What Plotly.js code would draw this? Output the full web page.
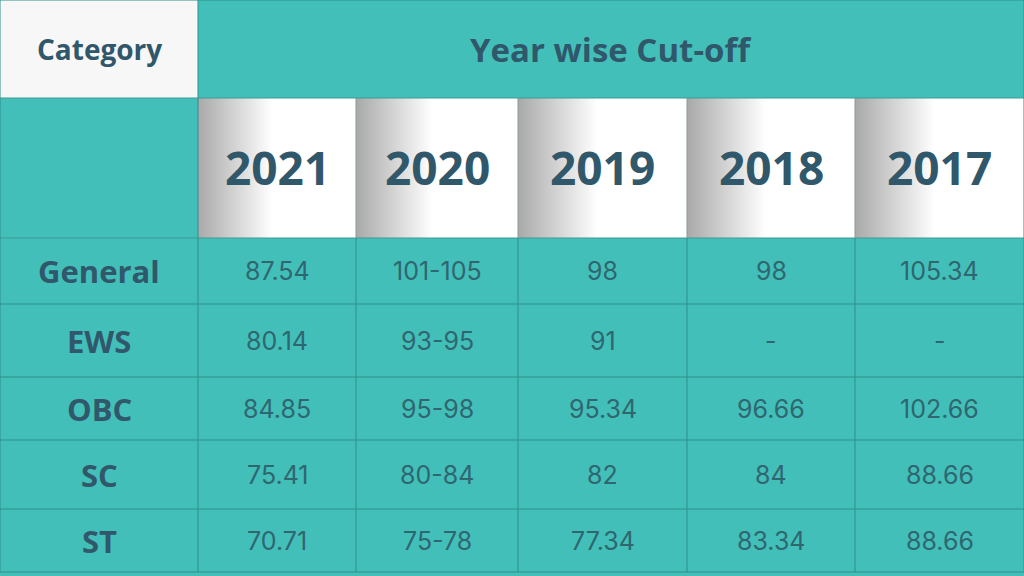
<!DOCTYPE html>
<html>
<head>
<meta charset="utf-8">
<script src="https://cdn.plot.ly/plotly-3.0.1.min.js"></script>
<style>
  html, body { margin: 0; padding: 0; background: #42bfb9; }
  #chart { width: 1024px; height: 576px; }
</style>
</head>
<body>
<div id="chart"></div>
<script>
// DATA
let title_text = "Year wise Cut-off"
let corner_label = "Category"
let years = ["2021", "2020", "2019", "2018", "2017"]
let categories = ["General", "EWS", "OBC", "SC", "ST"]
let cutoff_2021 = ["87.54", "80.14", "84.85", "75.41", "70.71"]
let cutoff_2020 = ["101-105", "93-95", "95-98", "80-84", "75-78"]
let cutoff_2019 = ["98", "91", "95.34", "82", "77.34"]
let cutoff_2018 = ["98", "-", "96.66", "84", "83.34"]
let cutoff_2017 = ["105.34", "-", "102.66", "88.66", "88.66"]
let cutoffs = [cutoff_2021, cutoff_2020, cutoff_2019, cutoff_2018, cutoff_2017]

// Table grid (pixel units on hidden axes)
let col_edges = [0, 198, 356, 518, 687, 855, 1024]
let row_edges = [0, 98, 238, 304, 377, 440, 509, 572]

let teal = "#42bfb9"
let grid = "#2e8f8a"
let heading = "#30576a"
let body_text = "#2f6670"

let mid = (a, b) => (a + b) / 2

// Gradient fills for the year header cells
let traces = years.map((yr, i) => {
  let x0 = col_edges[i + 1], x1 = col_edges[i + 2]
  let y0 = row_edges[1], y1 = row_edges[2]
  return {
    type: "scatter",
    mode: "lines",
    x: [x0, x1, x1, x0, x0],
    y: [y0, y0, y1, y1, y0],
    fill: "toself",
    fillgradient: {
      type: "horizontal",
      colorscale: [[0, "#a9a9a9"], [0.47, "#ffffff"], [1, "#ffffff"]]
    },
    line: {width: 0},
    hoverinfo: "skip",
    showlegend: false
  }
})

let shapes = []
// Corner cell
shapes.push({type: "rect", xref: "x", yref: "y", layer: "below",
  x0: col_edges[0], x1: col_edges[1], y0: row_edges[0], y1: row_edges[1],
  fillcolor: "#f7f7f7", line: {width: 0}})

// Horizontal lines
row_edges.forEach((y, r) => {
  shapes.push({type: "line", xref: "x", yref: "y", x0: 0, x1: 1024, y0: y, y1: y,
    line: {color: r == 2 || r == 1 ? "#3c9a95" : grid, width: 1}})
})
// Vertical lines
col_edges.forEach((x, c) => {
  let top = (c == 0 || c == 1 || c == 6) ? row_edges[0] : row_edges[1]
  let top_color = (c == 0 || c == 1 || c == 6) ? grid : "#8a9a99"
  shapes.push({type: "line", xref: "x", yref: "y", x0: x, x1: x,
    y0: top, y1: row_edges[2], line: {color: top_color, width: 1}})
  shapes.push({type: "line", xref: "x", yref: "y", x0: x, x1: x,
    y0: row_edges[2], y1: row_edges[row_edges.length - 1], line: {color: grid, width: 1}})
})

let annotations = []
let ann = (x, y, text, size, color, weight, family) => ({
  xref: "x", yref: "y", x: x, y: y, text: text, showarrow: false,
  xanchor: "center", yanchor: "middle",
  font: {family: family, size: size, color: color, weight: weight}
})

let head_font = "Open Sans, sans-serif"
let body_font = "Inter, sans-serif"

annotations.push(ann(mid(col_edges[0], col_edges[1]), mid(row_edges[0], row_edges[1]), corner_label, 28, heading, 700, head_font))
annotations.push(ann(mid(col_edges[1], col_edges[6]), mid(row_edges[0], row_edges[1]), title_text, 33, heading, 700, head_font))

years.forEach((yr, i) => {
  annotations.push(ann(mid(col_edges[i + 1], col_edges[i + 2]), mid(row_edges[1], row_edges[2]) - 1, yr, 46, heading, 700, head_font))
})

categories.forEach((cat, r) => {
  let yc = mid(row_edges[r + 2], row_edges[r + 3])
  annotations.push(ann(mid(col_edges[0], col_edges[1]), yc, cat, 31, heading, 700, head_font))
  cutoffs.forEach((col, c) => {
    annotations.push(ann(mid(col_edges[c + 1], col_edges[c + 2]), yc, col[r], 25, body_text, 400, body_font))
  })
})

let layout = {
  width: 1024,
  height: 576,
  margin: {l: 0, r: 0, t: 0, b: 0},
  paper_bgcolor: teal,
  plot_bgcolor: teal,
  xaxis: {range: [0, 1024], visible: false, fixedrange: true},
  yaxis: {range: [576, 0], visible: false, fixedrange: true},
  shapes: shapes,
  annotations: annotations,
  showlegend: false
}

Plotly.newPlot("chart", traces, layout, {displayModeBar: false, staticPlot: true})
</script>
</body>
</html>
